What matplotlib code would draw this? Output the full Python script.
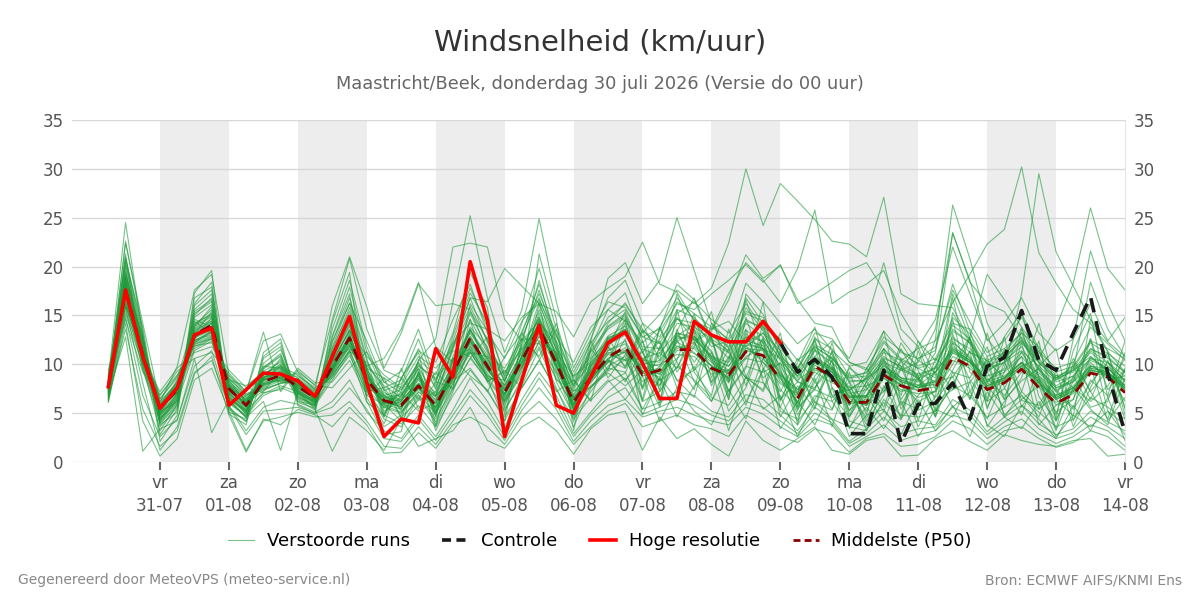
import pandas as pd
import matplotlib
matplotlib.use("Agg")
import matplotlib.pyplot as plt
import matplotlib.dates as mdates
from matplotlib.lines import Line2D

# time axis: 6-hourly steps from 30-07 06:00 to 14-08 00:00
times = pd.date_range("2026-07-30 06:00", periods=60, freq="6h")
day_ticks = pd.date_range("2026-07-31", "2026-08-14", freq="D")
day_names = ["vr", "za", "zo", "ma", "di", "wo", "do", "vr", "za", "zo", "ma", "di", "wo", "do", "vr"]
day_dates = ["31-07", "01-08", "02-08", "03-08", "04-08", "05-08", "06-08", "07-08",
             "08-08", "09-08", "10-08", "11-08", "12-08", "13-08", "14-08"]

# high resolution run (first 40 steps, until 09-08 00:00)
hres = [7.7, 17.6, 10.8, 5.5, 7.6, 13.0, 13.7, 5.8, 7.4, 9.1, 9.0, 8.3, 6.7, 10.8, 14.9,
        8.1, 2.6, 4.4, 4.0, 11.6, 8.7, 20.5, 14.5, 2.6, 8.4, 14.0, 5.8, 5.0, 8.7, 12.2,
        13.3, 10.1, 6.5, 6.5, 14.4, 13.0, 12.3, 12.3, 14.4, 12.2]

# control run, visible from 09-08 00:00 onward (step 39..59)
control = [12.2, 9.2, 10.5, 8.7, 2.9, 2.9, 9.4, 1.9, 5.9, 6.0, 8.1, 4.4, 9.8, 10.7,
           15.5, 10.4, 9.4, 13.2, 16.9, 9.1, 3.0]

# ensemble median
p50 = [7.7, 17.6, 11.0, 5.5, 7.4, 13.0, 14.0, 7.5, 5.8, 8.2, 8.9, 7.7, 6.6, 9.8, 12.7,
       8.4, 6.3, 5.8, 7.8, 5.8, 9.1, 12.7, 9.8, 7.1, 10.4, 13.7, 10.1, 6.1, 8.7, 10.7,
       11.8, 8.9, 9.4, 11.5, 11.5, 9.6, 8.9, 11.3, 10.9, 8.4, 6.5, 9.8, 8.7, 6.1, 6.1,
       8.9, 7.8, 7.3, 7.6, 10.7, 9.8, 7.4, 8.1, 9.5, 7.6, 6.0, 6.9, 9.1, 8.7, 7.1]

# perturbed members
runs = [
    [7.2, 19.5, 12.1, 4.3, 6.8, 15.2, 16.4, 6.9, 5.1, 9.3, 10.2, 7.1, 6.0, 11.4, 15.8,
     9.7, 5.2, 6.4, 8.9, 4.7, 10.8, 14.6, 11.2, 6.5, 9.8, 15.3, 11.0, 5.2, 9.1, 12.4,
     13.6, 9.2, 7.8, 12.9, 14.1, 10.3, 8.1, 13.5, 12.2, 7.4, 5.6, 10.4, 9.5, 5.3, 6.8,
     10.1, 8.2, 6.1, 7.3, 12.4, 10.6, 6.2, 7.5, 11.3, 8.2, 5.1, 6.4, 10.8, 9.3, 6.2],
    [8.1, 21.3, 9.8, 3.2, 5.9, 16.8, 17.9, 5.4, 4.2, 10.6, 11.8, 6.4, 5.3, 12.8, 17.2,
     7.3, 3.9, 8.6, 11.2, 3.8, 7.5, 16.2, 13.4, 4.8, 12.1, 18.6, 12.3, 4.1, 10.4, 13.9,
     15.2, 7.6, 11.8, 14.7, 13.2, 8.1, 10.6, 15.8, 13.4, 9.6, 4.8, 8.2, 11.3, 7.2, 4.5,
     7.6, 10.3, 8.8, 5.4, 15.3, 12.1, 5.6, 9.2, 13.8, 6.7, 4.2, 8.3, 12.6, 7.4, 9.5],
    [6.9, 16.2, 11.5, 6.2, 8.1, 11.8, 12.7, 8.3, 6.6, 7.4, 8.1, 8.2, 7.1, 8.9, 11.3,
     10.2, 7.4, 4.6, 6.3, 7.2, 11.4, 10.8, 8.3, 9.2, 11.6, 12.2, 8.4, 7.3, 7.6, 9.3,
     10.5, 11.2, 8.3, 9.6, 12.8, 11.4, 7.3, 9.8, 9.2, 10.1, 8.2, 7.4, 6.6, 7.8, 5.2,
     9.3, 6.4, 9.1, 8.2, 8.7, 11.3, 9.2, 6.4, 8.3, 9.6, 7.2, 5.4, 8.1, 10.2, 8.3],
    [7.5, 22.6, 13.4, 2.1, 4.8, 17.3, 19.6, 4.9, 3.8, 11.2, 12.6, 5.8, 4.9, 14.3, 19.4,
     6.2, 2.8, 3.1, 10.5, 8.9, 13.2, 19.4, 15.8, 3.4, 8.2, 21.3, 14.6, 3.2, 11.8, 15.6,
     17.3, 12.4, 6.2, 13.4, 16.8, 12.6, 6.4, 17.2, 15.1, 11.3, 6.9, 12.8, 10.2, 4.2, 3.6,
     6.1, 4.3, 10.6, 11.4, 18.2, 13.4, 8.1, 10.3, 15.2, 11.6, 6.4, 4.7, 14.6, 11.3, 5.4],
    [8.4, 14.6, 9.2, 6.8, 9.3, 10.6, 11.2, 9.1, 7.2, 13.3, 7.2, 9.4, 7.8, 7.6, 9.6,
     11.3, 8.2, 7.1, 5.2, 6.1, 8.3, 9.6, 7.2, 10.8, 13.2, 10.6, 7.2, 8.4, 6.3, 8.2,
     9.1, 13.4, 12.2, 8.3, 9.4, 13.1, 11.2, 8.6, 7.4, 12.3, 9.4, 6.1, 5.3, 9.6, 8.4,
     11.6, 9.8, 5.3, 6.2, 7.4, 8.2, 10.4, 11.2, 6.3, 5.8, 8.9, 7.6, 6.2, 7.8, 10.6],
    [7.0, 18.3, 10.4, 4.8, 7.9, 14.1, 15.2, 7.8, 6.2, 9.8, 9.6, 8.6, 6.4, 10.6, 13.9,
     8.8, 6.9, 5.4, 9.2, 5.3, 9.6, 13.6, 10.2, 6.1, 10.9, 14.8, 9.3, 6.2, 9.4, 11.2,
     11.2, 6.4, 13.8, 9.2, 11.8, 15.4, 8.2, 16.6, 11.4, 6.2, 10.2, 13.8, 7.6, 5.8, 9.6,
     7.2, 11.6, 8.4, 4.6, 9.2, 8.6, 11.8, 6.4, 12.2, 5.4, 6.8, 10.6, 7.2, 9.4, 4.4],
    [6.4, 15.8, 8.1, 1.2, 3.6, 9.2, 10.4, 5.8, 3.2, 5.6, 6.3, 5.9, 5.1, 6.2, 8.4,
     5.1, 3.2, 2.4, 4.8, 2.6, 5.3, 8.6, 6.2, 3.1, 6.4, 9.2, 6.8, 2.9, 5.1, 7.2,
     8.6, 5.4, 6.1, 7.2, 6.8, 5.2, 4.6, 6.9, 6.4, 4.8, 3.2, 5.6, 4.3, 2.1, 3.4,
     5.2, 3.6, 4.2, 3.8, 6.4, 5.3, 3.1, 4.6, 5.8, 3.9, 2.8, 3.4, 5.2, 4.1, 3.2],
    [8.8, 20.1, 12.6, 5.1, 6.2, 13.8, 15.9, 6.3, 5.4, 8.6, 9.8, 7.6, 6.9, 11.8, 16.3,
     12.4, 8.1, 9.3, 13.6, 8.2, 12.4, 17.3, 14.2, 8.6, 14.2, 19.8, 13.6, 9.2, 12.6, 16.8,
     18.6, 14.2, 12.8, 16.4, 15.2, 13.8, 12.6, 18.3, 16.4, 14.2, 12.1, 13.6, 11.4, 9.8, 10.2,
     13.4, 11.2, 10.6, 11.8, 17.6, 14.3, 11.2, 12.4, 14.8, 11.3, 9.6, 10.2, 13.8, 12.1, 10.4],
    [7.3, 17.1, 11.8, 5.9, 7.1, 12.4, 13.3, 7.2, 6.1, 8.4, 9.2, 7.3, 6.3, 9.4, 12.1,
     8.1, 6.7, 6.2, 8.4, 6.3, 10.2, 13.2, 10.6, 7.8, 11.3, 14.2, 12.4, 8.6, 10.8, 14.2,
     16.3, 13.2, 15.1, 17.6, 16.2, 17.8, 22.4, 30.0, 24.2, 28.5, 26.7, 24.8, 22.6, 22.3, 21.0,
     27.1, 17.2, 16.2, 16.0, 15.8, 12.4, 9.6, 11.3, 13.2, 9.4, 7.2, 8.6, 11.4, 10.2, 8.3],
    [7.9, 18.8, 10.2, 5.3, 7.6, 13.6, 14.6, 7.9, 5.6, 8.0, 8.6, 7.8, 6.8, 10.2, 13.4,
     9.4, 7.1, 6.3, 8.1, 6.9, 9.8, 12.1, 9.4, 7.6, 10.1, 13.1, 10.8, 7.2, 9.2, 12.8,
     13.2, 10.4, 12.6, 14.8, 12.4, 13.6, 17.2, 20.4, 18.6, 16.3, 19.8, 25.8, 16.2, 17.4, 18.2,
     19.6, 15.2, 12.3, 10.4, 12.8, 11.2, 10.4, 8.6, 10.2, 9.1, 7.6, 8.2, 10.4, 9.6, 7.8],
    [7.6, 19.8, 11.2, 4.6, 7.0, 14.4, 13.1, 6.6, 5.2, 8.8, 10.4, 7.4, 6.1, 10.9, 14.6,
     9.2, 5.8, 5.1, 7.2, 5.6, 8.6, 11.9, 9.1, 6.8, 11.6, 13.9, 9.6, 5.6, 8.8, 10.2,
     11.4, 8.2, 9.8, 12.3, 11.2, 9.4, 8.6, 10.8, 11.6, 8.9, 7.4, 9.2, 8.1, 7.3, 8.6,
     12.2, 10.4, 11.6, 12.4, 16.3, 19.2, 22.3, 23.8, 30.2, 21.4, 18.3, 15.6, 14.2, 11.3, 9.2],
    [8.2, 17.9, 10.8, 5.8, 8.3, 12.8, 13.6, 8.1, 6.3, 7.6, 8.3, 8.1, 6.4, 9.6, 12.4,
     7.9, 6.1, 6.8, 9.6, 4.9, 8.4, 12.3, 10.1, 7.9, 9.8, 12.8, 10.6, 6.5, 8.4, 10.6,
     11.2, 9.8, 9.1, 10.6, 12.1, 9.8, 9.3, 11.9, 10.2, 8.6, 6.1, 9.4, 8.9, 6.2, 5.8,
     8.6, 7.2, 7.8, 9.2, 11.6, 10.4, 8.3, 9.6, 17.2, 29.5, 21.5, 18.0, 14.6, 12.3, 10.8],
    [6.6, 16.8, 11.9, 6.5, 8.6, 12.2, 12.9, 8.6, 6.8, 7.8, 8.4, 8.4, 7.2, 9.1, 11.8,
     8.6, 6.8, 5.6, 7.6, 6.4, 9.4, 12.9, 9.6, 7.4, 10.6, 13.4, 10.2, 6.4, 8.6, 11.4,
     12.1, 9.3, 8.7, 11.4, 11.8, 10.2, 9.1, 11.6, 11.4, 8.2, 6.8, 9.6, 8.6, 5.9, 6.4,
     9.2, 7.9, 6.6, 7.2, 10.4, 9.6, 7.6, 8.4, 9.8, 10.6, 13.8, 18.3, 26.0, 19.8, 17.6],
    [7.4, 20.6, 13.8, 3.6, 5.6, 15.6, 17.2, 6.2, 4.6, 9.6, 11.1, 6.8, 5.6, 12.2, 16.8,
     10.6, 4.6, 7.8, 10.8, 9.6, 11.6, 15.4, 12.6, 8.2, 13.4, 17.2, 13.1, 8.2, 11.6, 14.8,
     16.1, 13.6, 11.4, 15.2, 16.4, 14.6, 13.2, 16.2, 13.8, 12.6, 10.4, 11.8, 10.6, 8.6, 9.2,
     11.6, 9.4, 10.2, 13.6, 23.4, 18.6, 12.4, 14.2, 16.8, 13.2, 11.4, 12.6, 21.6, 16.2, 12.4],
    [7.1, 15.4, 10.6, 7.2, 9.6, 11.2, 11.8, 9.4, 7.6, 7.1, 7.4, 9.6, 8.1, 8.2, 10.4,
     6.8, 5.9, 4.2, 6.8, 4.4, 7.6, 10.6, 8.4, 6.2, 8.9, 11.8, 8.6, 5.8, 7.8, 9.1,
     7.8, 9.4, 5.6, 12.6, 8.2, 6.2, 9.4, 5.8, 10.6, 8.8, 4.2, 6.4, 9.6, 7.4, 3.8,
     9.4, 4.4, 6.8, 9.2, 5.6, 7.2, 10.2, 4.8, 6.4, 7.8, 3.2, 7.6, 5.4, 3.8, 8.6],
    [8.6, 24.5, 12.9, 2.8, 5.4, 16.2, 18.4, 5.1, 4.4, 10.8, 12.2, 6.2, 5.8, 13.6, 18.6,
     11.8, 7.6, 8.4, 12.6, 7.8, 16.4, 25.2, 16.8, 11.2, 15.6, 24.9, 16.4, 9.6, 13.2, 16.4,
     15.8, 12.8, 13.6, 18.2, 16.6, 12.4, 10.6, 14.2, 12.8, 10.6, 8.2, 11.6, 9.8, 7.6, 7.8,
     10.4, 8.6, 8.2, 9.8, 13.6, 12.2, 9.2, 10.6, 12.6, 9.4, 7.8, 8.8, 11.6, 10.8, 9.1],
    [6.1, 14.2, 4.2, 0.6, 2.4, 8.4, 9.6, 5.2, 1.2, 4.2, 4.6, 5.1, 4.6, 4.8, 6.2,
     4.2, 1.6, 1.4, 3.6, 1.8, 4.2, 6.8, 4.8, 2.2, 5.3, 7.6, 5.4, 2.1, 4.2, 5.8,
     6.4, 4.6, 5.2, 5.6, 4.8, 4.2, 3.8, 5.6, 4.9, 3.6, 2.6, 4.4, 3.8, 1.6, 2.6,
     3.8, 2.2, 2.8, 3.2, 4.8, 4.2, 2.4, 3.6, 4.4, 2.8, 1.9, 2.6, 3.8, 3.2, 1.6],
    [7.8, 17.4, 9.4, 4.1, 6.4, 12.6, 14.8, 6.8, 4.9, 7.2, 9.4, 6.6, 5.9, 9.2, 13.2,
     7.6, 4.4, 3.6, 6.6, 4.1, 8.1, 11.4, 8.2, 5.2, 8.6, 12.4, 9.2, 4.6, 7.2, 9.6,
     9.2, 5.4, 8.6, 4.6, 7.8, 9.6, 3.2, 8.8, 5.4, 6.8, 2.6, 6.2, 4.4, 3.6, 5.6,
     3.4, 6.2, 2.6, 5.4, 4.6, 8.2, 3.8, 2.6, 5.8, 4.4, 2.4, 5.8, 3.2, 6.6, 2.2],
    [8.3, 18.6, 11.6, 5.6, 7.8, 13.3, 14.2, 7.6, 6.0, 8.1, 8.8, 7.9, 6.7, 9.9, 13.0,
     8.9, 6.2, 5.6, 7.4, 5.9, 9.2, 12.6, 9.9, 7.3, 10.4, 13.2, 10.4, 6.4, 9.6, 12.2,
     14.6, 11.2, 13.4, 16.2, 15.6, 17.2, 18.6, 20.2, 18.4, 20.2, 16.2, 17.2, 18.4, 19.6, 20.4,
     17.6, 12.6, 10.4, 9.2, 11.4, 10.2, 8.8, 9.4, 11.2, 8.8, 7.4, 8.2, 9.8, 9.2, 7.8],
    [7.7, 16.6, 10.1, 5.0, 8.4, 14.6, 13.8, 7.1, 5.5, 9.1, 8.2, 8.3, 6.5, 10.4, 11.6,
     9.9, 7.8, 6.6, 8.6, 7.1, 10.6, 11.6, 8.8, 7.9, 11.2, 15.6, 11.6, 6.9, 9.8, 11.6,
     15.4, 11.2, 7.4, 13.2, 10.2, 12.8, 6.8, 14.8, 9.6, 7.2, 10.6, 8.2, 5.4, 9.8, 7.6,
     5.2, 9.6, 11.8, 7.4, 16.8, 9.2, 7.8, 5.6, 13.6, 10.2, 4.8, 11.4, 15.2, 6.6, 9.4],
    [6.7, 19.1, 12.4, 4.9, 6.6, 13.1, 15.4, 7.3, 5.7, 8.9, 9.9, 7.2, 6.2, 10.8, 14.2,
     8.2, 5.6, 7.2, 10.2, 5.2, 8.8, 13.8, 11.8, 5.9, 9.4, 14.4, 9.8, 5.6, 10.2, 12.9,
     13.9, 10.6, 8.9, 12.3, 13.6, 11.2, 8.2, 10.6, 12.6, 9.4, 5.8, 8.8, 10.8, 8.2, 5.8,
     7.2, 9.6, 8.6, 6.6, 9.4, 12.6, 8.6, 6.8, 9.2, 8.6, 5.8, 7.2, 10.2, 8.4, 8.8],
    [8.9, 15.9, 11.3, 6.4, 8.8, 11.9, 12.2, 8.8, 7.0, 7.7, 8.7, 8.8, 7.6, 8.6, 10.9,
     7.2, 7.6, 5.2, 7.1, 6.8, 8.6, 11.2, 8.6, 8.4, 11.8, 13.8, 9.8, 6.6, 8.1, 10.4,
     9.6, 14.2, 10.4, 17.2, 12.4, 8.2, 11.6, 16.8, 14.2, 10.8, 5.4, 7.6, 9.8, 5.2, 8.2,
     10.6, 6.8, 12.4, 8.8, 17.2, 12.6, 6.4, 12.8, 15.4, 8.6, 4.4, 12.6, 16.2, 12.4, 14.8],
    [7.0, 12.8, 1.1, 3.4, 4.2, 10.6, 3.0, 6.4, 4.6, 6.2, 1.2, 7.2, 5.4, 1.1, 4.6,
     3.2, 1.2, 4.4, 1.6, 2.4, 3.2, 5.6, 2.2, 1.4, 3.6, 4.6, 3.2, 0.8, 3.4, 4.8,
     5.2, 1.2, 4.6, 2.4, 3.4, 1.8, 0.6, 4.2, 2.2, 1.2, 2.4, 3.6, 1.2, 0.8, 2.2,
     2.6, 0.6, 0.7, 2.4, 3.2, 2.1, 1.2, 2.8, 2.2, 1.8, 1.6, 2.2, 2.4, 0.6, 0.8],
    [7.4, 17.0, 11.1, 5.7, 7.2, 12.9, 13.9, 7.7, 6.4, 8.4, 9.1, 7.5, 6.8, 9.7, 12.6,
     7.2, 4.8, 8.6, 6.4, 9.2, 7.4, 10.6, 12.8, 5.4, 8.2, 16.2, 8.2, 4.8, 11.6, 9.4,
     14.2, 7.4, 11.2, 9.6, 13.6, 7.8, 10.8, 8.6, 12.8, 6.4, 8.2, 7.6, 10.4, 4.6, 7.4,
     10.4, 5.8, 8.8, 4.6, 12.2, 8.4, 6.2, 11.6, 7.2, 5.4, 8.6, 9.8, 6.4, 10.4, 5.6],
    [8.0, 22.4, 14.2, 6.1, 9.8, 17.6, 19.2, 8.9, 7.2, 12.4, 13.1, 9.2, 7.9, 14.6, 20.8,
     13.6, 9.4, 8.6, 11.4, 10.2, 14.6, 18.2, 13.2, 10.6, 14.4, 16.6, 12.8, 10.2, 13.8, 15.6,
     14.4, 12.2, 13.8, 16.8, 14.6, 11.8, 12.4, 15.4, 14.8, 11.6, 9.6, 13.2, 12.6, 10.2, 9.4,
     12.8, 11.4, 9.8, 10.6, 14.2, 13.6, 10.8, 11.6, 13.2, 11.8, 9.2, 9.8, 12.4, 11.6, 10.6],
    [6.3, 18.1, 12.8, 3.8, 5.1, 14.8, 16.1, 5.6, 4.1, 8.6, 10.6, 6.1, 5.5, 11.2, 14.9,
     6.6, 3.6, 4.8, 9.1, 3.2, 7.2, 11.8, 8.6, 4.2, 7.8, 11.6, 7.6, 3.6, 7.6, 9.8,
     10.8, 6.2, 7.2, 9.8, 8.4, 6.6, 5.8, 8.6, 8.1, 5.6, 3.8, 6.8, 6.2, 3.6, 3.2,
     6.4, 4.8, 4.6, 5.2, 7.8, 6.8, 4.6, 5.6, 6.8, 5.1, 3.6, 4.4, 6.6, 5.6, 4.4],
    [9.4, 16.4, 10.8, 6.9, 8.9, 12.1, 12.6, 8.4, 7.8, 9.2, 8.6, 9.1, 7.4, 9.3, 12.2,
     9.6, 8.6, 7.4, 9.8, 8.6, 10.6, 11.2, 10.8, 9.6, 12.6, 12.4, 11.2, 8.8, 10.2, 11.8,
     10.4, 10.6, 11.2, 13.2, 12.6, 10.8, 10.2, 12.8, 11.6, 10.6, 8.8, 11.4, 10.2, 8.4, 8.2,
     10.2, 9.4, 8.6, 9.2, 12.6, 11.6, 9.6, 10.2, 11.4, 9.8, 8.2, 8.8, 10.6, 10.2, 8.8],
    [6.8, 15.1, 9.9, 4.4, 6.1, 11.4, 12.4, 6.1, 4.8, 6.8, 7.6, 6.9, 5.8, 8.4, 11.2,
     6.1, 4.8, 3.9, 5.8, 3.6, 6.8, 9.4, 7.2, 4.6, 7.6, 10.4, 7.4, 4.4, 6.6, 8.4,
     6.4, 8.8, 4.2, 7.6, 5.2, 3.8, 7.4, 4.4, 9.6, 3.4, 6.2, 3.8, 7.6, 2.6, 4.8,
     5.4, 2.8, 6.4, 3.2, 5.8, 2.6, 7.2, 4.6, 3.4, 6.2, 2.6, 4.8, 3.6, 5.2, 2.8],
    [8.5, 19.0, 11.4, 5.4, 7.5, 13.9, 15.0, 7.4, 5.9, 8.3, 9.5, 7.7, 6.6, 10.3, 13.6,
     9.1, 6.6, 6.9, 8.8, 6.6, 11.8, 16.8, 12.2, 8.8, 12.4, 17.6, 12.2, 7.6, 11.2, 13.6,
     14.8, 11.6, 10.8, 14.2, 13.8, 12.6, 11.4, 14.6, 13.6, 10.8, 9.2, 11.8, 10.6, 8.6, 8.8,
     10.8, 9.6, 8.8, 9.6, 13.4, 12.2, 9.4, 10.2, 12.2, 10.2, 8.4, 9.4, 11.6, 10.6, 9.2],
    [7.6, 16.9, 10.7, 5.2, 7.3, 12.4, 13.4, 7.8, 5.8, 7.9, 8.5, 8.0, 6.9, 9.5, 12.8,
     8.2, 6.0, 5.9, 7.9, 5.5, 8.8, 12.4, 9.6, 6.8, 10.1, 13.6, 9.9, 5.9, 8.4, 10.4,
     8.4, 10.2, 12.4, 7.6, 9.8, 6.2, 10.4, 13.6, 8.2, 5.6, 9.6, 12.4, 6.8, 7.4, 4.2,
     6.8, 12.2, 9.4, 5.2, 7.8, 11.4, 3.6, 6.2, 8.6, 14.2, 7.4, 5.6, 9.8, 4.2, 6.6],
    [7.3, 18.4, 11.7, 5.3, 7.7, 13.4, 14.4, 7.0, 5.6, 8.7, 9.0, 7.4, 6.5, 10.1, 13.5,
     10.8, 8.9, 7.6, 9.9, 8.4, 12.2, 14.2, 13.6, 12.4, 14.8, 16.2, 15.4, 12.8, 16.4, 17.8,
     19.0, 22.5, 18.2, 17.4, 14.4, 13.6, 14.4, 12.2, 13.2, 11.4, 8.6, 10.8, 9.6, 7.4, 8.6,
     9.8, 8.6, 7.6, 8.4, 11.6, 10.4, 8.4, 9.2, 10.8, 8.6, 6.8, 7.8, 9.8, 9.6, 8.2],
    [8.7, 18.2, 10.3, 5.0, 7.0, 12.7, 13.5, 8.0, 6.5, 8.0, 8.4, 8.3, 6.2, 10.0, 12.9,
     8.3, 6.5, 6.0, 8.0, 6.0, 9.4, 12.8, 10.0, 7.0, 10.7, 13.9, 10.7, 7.8, 12.4, 18.8,
     20.4, 16.2, 18.6, 25.0, 19.6, 14.2, 12.4, 11.8, 13.2, 10.4, 8.4, 9.6, 9.2, 6.6, 6.8,
     9.4, 8.2, 7.8, 7.9, 11.2, 10.2, 7.8, 8.6, 9.8, 8.1, 6.4, 7.3, 9.4, 8.9, 7.6],
    [7.2, 17.3, 11.2, 5.6, 7.6, 13.1, 13.9, 7.4, 5.7, 8.1, 9.0, 7.6, 6.6, 9.8, 12.5,
     8.4, 6.2, 5.9, 7.7, 5.7, 9.0, 12.6, 9.7, 7.0, 10.3, 13.6, 10.0, 6.0, 8.6, 10.6,
     11.7, 8.8, 9.3, 11.6, 12.2, 13.4, 16.6, 21.2, 18.8, 20.1, 16.6, 14.2, 13.8, 10.2, 9.6,
     12.4, 10.6, 9.6, 8.6, 11.8, 10.6, 8.2, 8.8, 10.2, 8.4, 6.6, 7.6, 9.4, 9.1, 7.6],
    [7.9, 17.8, 10.6, 5.9, 7.1, 12.6, 14.3, 7.2, 6.1, 8.5, 8.6, 7.9, 6.3, 9.5, 12.9,
     8.7, 6.0, 6.1, 7.5, 6.2, 9.5, 12.3, 9.4, 7.4, 10.8, 13.3, 10.5, 6.4, 8.4, 11.1,
     11.4, 9.3, 9.0, 11.9, 11.1, 9.9, 8.6, 11.7, 10.5, 8.8, 6.2, 10.2, 8.4, 6.5, 5.8,
     8.9, 7.8, 7.3, 12.6, 26.3, 20.8, 14.2, 10.8, 12.4, 9.6, 7.6, 8.4, 10.6, 9.6, 7.9],
    [8.1, 16.5, 10.5, 5.8, 8.0, 12.3, 13.2, 8.2, 6.7, 8.5, 8.3, 8.5, 7.0, 9.0, 11.9,
     9.4, 4.6, 9.6, 5.4, 8.2, 7.6, 14.6, 8.2, 9.4, 7.6, 10.4, 13.6, 5.2, 12.4, 8.6,
     11.0, 9.6, 10.0, 11.0, 10.8, 9.0, 9.4, 10.6, 10.2, 8.0, 7.0, 10.4, 9.2, 6.7, 6.6,
     9.9, 8.6, 8.4, 11.2, 23.5, 18.4, 16.2, 15.4, 12.6, 10.4, 8.6, 9.2, 11.2, 9.8, 8.4],
    [7.5, 19.2, 12.2, 4.5, 6.4, 14.0, 15.6, 6.7, 5.0, 9.1, 9.7, 7.0, 6.0, 11.0, 14.9,
     9.0, 5.5, 6.6, 9.0, 5.0, 8.5, 13.5, 10.9, 6.3, 9.6, 14.6, 10.9, 5.4, 9.9, 12.0,
     13.0, 9.9, 8.4, 12.6, 12.9, 10.6, 8.4, 12.4, 11.9, 9.2, 6.0, 10.8, 12.4, 10.6, 14.4,
     20.4, 13.6, 11.8, 14.6, 22.0, 17.2, 12.6, 10.4, 11.8, 8.8, 6.8, 7.6, 9.9, 8.8, 7.4],
    [6.2, 14.8, 6.8, 2.6, 4.4, 9.8, 11.4, 5.6, 2.8, 5.2, 5.4, 5.6, 5.0, 5.6, 7.6,
     5.4, 2.4, 2.1, 4.4, 2.2, 4.8, 7.4, 5.4, 2.6, 5.8, 8.6, 6.0, 2.6, 4.8, 6.6,
     7.6, 4.9, 5.6, 6.4, 5.8, 4.8, 4.2, 6.2, 5.6, 4.2, 2.9, 5.0, 4.0, 1.9, 2.9,
     4.6, 2.9, 3.4, 3.6, 5.6, 4.8, 2.8, 4.1, 5.2, 3.4, 2.4, 3.0, 4.6, 3.6, 2.4],
    [8.6, 20.4, 11.9, 4.0, 6.0, 15.0, 16.8, 6.0, 4.7, 9.5, 10.8, 6.5, 5.7, 11.6, 15.4,
     9.3, 5.0, 6.8, 9.4, 4.6, 10.4, 15.2, 11.6, 5.6, 10.8, 16.4, 11.4, 4.8, 9.8, 12.6,
     13.4, 10.2, 9.8, 13.2, 12.8, 10.8, 9.8, 12.8, 12.4, 9.8, 7.4, 10.6, 9.6, 7.0, 7.4,
     9.4, 8.4, 7.6, 8.2, 12.2, 10.8, 7.8, 8.6, 10.1, 8.2, 6.6, 7.6, 9.6, 9.2, 7.4],
    [7.1, 16.0, 10.9, 6.0, 8.2, 12.0, 12.8, 8.5, 6.9, 7.5, 8.0, 8.6, 7.3, 8.8, 11.5,
     6.8, 8.6, 4.4, 9.2, 3.6, 10.6, 8.8, 7.4, 4.2, 12.6, 10.8, 14.2, 8.4, 6.2, 12.8,
     9.6, 12.4, 7.8, 13.6, 9.4, 11.2, 6.4, 13.2, 8.6, 10.2, 5.2, 11.6, 6.8, 4.6, 7.8,
     8.6, 7.4, 7.0, 7.2, 10.0, 12.8, 19.2, 16.6, 13.8, 11.2, 8.8, 9.4, 10.8, 9.2, 7.8],
    [6.5, 13.6, 5.4, 1.6, 3.2, 9.0, 10.8, 4.8, 1.0, 4.4, 3.8, 5.4, 4.8, 3.6, 5.6,
     3.8, 0.9, 1.0, 3.0, 1.4, 3.8, 4.6, 3.6, 1.8, 4.6, 6.2, 4.4, 1.8, 3.6, 5.2,
     6.0, 3.6, 4.2, 4.8, 3.8, 3.4, 2.6, 4.8, 3.8, 2.6, 2.0, 3.4, 2.8, 1.0, 2.4,
     2.9, 1.6, 1.8, 2.6, 4.2, 3.4, 1.8, 3.2, 3.6, 2.4, 1.5, 2.0, 3.2, 2.6, 1.2],
    [7.8, 18.9, 11.5, 4.7, 6.7, 13.7, 14.9, 7.1, 5.3, 8.6, 9.6, 7.0, 6.1, 10.6, 14.1,
     8.7, 5.9, 5.4, 8.6, 5.1, 9.8, 13.4, 10.6, 6.6, 10.9, 14.9, 10.8, 5.8, 9.4, 11.7,
     9.8, 13.6, 7.2, 10.4, 15.2, 8.6, 12.4, 7.8, 14.2, 6.4, 9.8, 5.6, 11.4, 4.8, 8.2,
     5.6, 10.6, 4.2, 9.8, 7.4, 12.8, 5.4, 10.2, 6.8, 4.6, 9.4, 3.6, 7.6, 11.2, 4.8],
    [8.0, 17.6, 10.0, 5.9, 7.9, 12.5, 13.0, 8.4, 6.0, 7.3, 8.1, 8.1, 6.8, 9.3, 12.0,
     8.1, 6.6, 6.4, 8.0, 6.7, 8.9, 11.5, 8.9, 7.4, 9.7, 12.9, 9.8, 6.7, 8.2, 10.2,
     14.6, 6.2, 11.8, 8.4, 6.6, 12.8, 7.2, 9.6, 16.4, 5.2, 4.4, 8.6, 3.6, 9.2, 4.8,
     11.6, 5.4, 8.6, 4.8, 13.2, 6.4, 10.8, 4.6, 7.2, 12.4, 4.2, 8.8, 5.6, 6.2, 11.2],
    [7.6, 21.0, 13.1, 4.2, 6.3, 16.0, 17.6, 6.5, 5.0, 10.1, 11.5, 7.3, 6.3, 12.9, 17.9,
     11.2, 7.3, 8.0, 11.6, 7.4, 12.9, 17.8, 13.8, 9.0, 13.1, 18.2, 12.9, 8.8, 12.2, 14.4,
     15.6, 12.8, 12.1, 15.6, 14.8, 12.9, 11.8, 15.2, 14.4, 11.9, 9.4, 12.6, 11.6, 8.8, 9.1,
     11.2, 10.4, 9.6, 10.2, 14.8, 13.1, 10.2, 11.0, 12.8, 10.6, 8.6, 9.6, 12.2, 11.1, 9.8],
    [6.8, 17.7, 11.6, 5.6, 7.0, 12.2, 13.4, 7.9, 6.2, 7.9, 8.6, 7.8, 6.7, 9.6, 12.4,
     8.3, 6.1, 5.7, 7.6, 5.6, 8.9, 12.5, 9.5, 7.0, 10.2, 13.5, 9.9, 6.0, 8.5, 10.5,
     8.2, 11.6, 5.8, 15.6, 9.2, 6.8, 13.6, 8.8, 7.2, 11.4, 3.8, 12.6, 6.2, 8.2, 3.2,
     7.8, 4.6, 11.4, 6.2, 8.8, 4.2, 9.6, 12.8, 5.6, 8.4, 3.4, 10.2, 7.2, 4.4, 9.6],
    [7.4, 16.1, 9.6, 4.9, 6.9, 11.6, 12.6, 7.0, 5.3, 7.0, 7.8, 7.2, 6.0, 8.7, 11.4,
     7.5, 5.6, 5.0, 6.9, 5.0, 8.0, 11.2, 8.7, 6.3, 9.2, 12.2, 9.0, 5.4, 7.7, 9.5,
     12.6, 4.8, 8.6, 6.4, 13.4, 10.8, 5.2, 7.6, 12.4, 4.6, 7.8, 5.4, 10.6, 3.4, 6.8,
     4.2, 8.4, 3.6, 6.8, 14.6, 7.2, 4.4, 8.6, 10.8, 3.8, 5.8, 6.4, 12.6, 5.2, 3.8],
    [7.9, 18.7, 11.8, 5.2, 7.8, 13.5, 14.4, 7.7, 5.7, 8.4, 9.8, 8.9, 7.4, 16.0, 21.0,
     15.9, 9.6, 13.2, 18.2, 16.0, 16.2, 15.6, 11.4, 8.4, 12.0, 14.6, 11.6, 7.4, 10.6, 12.4,
     13.2, 10.4, 10.2, 12.8, 12.6, 10.6, 9.8, 12.2, 11.6, 9.1, 7.2, 10.4, 9.4, 6.8, 6.8,
     9.6, 8.4, 7.9, 8.2, 11.4, 10.4, 8.0, 8.6, 10.2, 8.1, 6.5, 7.4, 9.6, 9.2, 7.6],
    [7.2, 17.5, 10.9, 5.4, 7.3, 12.8, 13.8, 7.6, 5.9, 8.3, 8.8, 7.6, 6.5, 9.7, 12.6,
     8.2, 6.5, 6.2, 10.4, 12.6, 22.0, 22.4, 22.0, 14.6, 12.4, 14.4, 11.2, 6.8, 9.2, 11.4,
     12.4, 9.2, 9.6, 11.8, 11.6, 9.8, 9.0, 11.4, 11.0, 8.5, 6.6, 9.9, 8.8, 6.2, 6.2,
     9.0, 7.9, 7.4, 7.7, 10.8, 9.9, 7.5, 8.2, 9.6, 7.7, 6.1, 7.0, 9.2, 8.8, 7.2],
    [8.4, 19.4, 12.0, 4.4, 6.5, 14.2, 15.1, 6.6, 5.2, 9.0, 10.0, 7.1, 6.2, 11.2, 14.4,
     9.6, 6.0, 7.0, 9.6, 6.8, 11.6, 16.8, 16.4, 19.8, 18.0, 16.2, 11.8, 8.0, 10.0, 12.6,
     13.6, 10.0, 10.4, 12.9, 12.2, 10.4, 9.4, 12.0, 11.6, 8.9, 7.0, 10.2, 9.2, 6.6, 6.7,
     9.4, 8.2, 7.6, 8.0, 11.2, 10.2, 7.8, 8.4, 9.9, 7.9, 6.4, 7.2, 9.4, 9.0, 7.5],
    [7.7, 18.0, 11.4, 5.8, 7.8, 13.2, 14.1, 7.9, 6.3, 8.6, 9.3, 7.9, 6.9, 10.4, 13.4,
     9.8, 10.6, 13.6, 18.4, 11.8, 10.2, 13.6, 10.4, 7.6, 10.8, 14.2, 10.4, 6.5, 9.0, 11.0,
     10.4, 7.6, 13.8, 10.2, 7.4, 14.2, 11.6, 6.2, 9.4, 13.2, 5.6, 7.4, 12.2, 5.8, 8.8,
     13.4, 6.2, 5.4, 10.6, 9.2, 6.4, 13.2, 7.6, 4.8, 9.8, 11.6, 4.2, 8.4, 6.8, 12.4],
    [8.2, 20.8, 12.7, 3.9, 5.8, 15.4, 16.6, 6.4, 4.5, 9.7, 10.9, 6.7, 5.8, 12.4, 16.2,
     10.4, 6.8, 7.4, 10.2, 7.6, 12.0, 15.9, 12.4, 8.2, 12.8, 16.8, 12.0, 7.8, 11.4, 13.8,
     15.0, 11.8, 11.6, 14.6, 14.2, 12.2, 11.2, 14.4, 13.8, 11.0, 8.8, 12.0, 11.0, 8.2, 8.4,
     10.6, 9.8, 9.0, 9.6, 14.0, 12.6, 9.8, 10.6, 12.4, 10.2, 8.4, 9.4, 18.4, 13.6, 10.8],
]

bad = [i for i, r in enumerate(runs) if len(r) != len(times)]
if bad:
    raise ValueError(f"runs with wrong length: {bad} -> {[len(runs[i]) for i in bad]}")

ens_color = "#1f9a3a"
fig = plt.figure(figsize=(12, 6), dpi=100)
ax = fig.add_axes([0.06, 0.23, 0.8775, 0.57])

# alternating day shading
for k in range(0, len(day_ticks) - 1, 2):
    ax.axvspan(day_ticks[k], day_ticks[k + 1], color="#ededed", zorder=0, lw=0)

for r in runs:
    ax.plot(times, r, color=ens_color, lw=0.8, alpha=0.6, zorder=2)

ax.plot(times[:len(hres)], p50[:len(hres)], color="#8b0000", lw=2, ls=(0, (4, 3)), zorder=3)
ax.plot(times[len(hres):], p50[len(hres):], color="#8b0000", lw=2, ls=(0, (4, 3)), zorder=3)
ax.plot(times[len(hres) - 1:], control, color="#1a1a1a", lw=2.6, ls=(0, (4, 2.5)), zorder=4)
ax.plot(times[:len(hres)], hres, color="#ff0000", lw=2.6, zorder=5)

ax.set_ylim(0, 35)
ax.set_yticks(range(0, 36, 5))
ax.set_xlim(mdates.date2num(day_ticks[0]) - 88 / 68.93, mdates.date2num(day_ticks[-1]))
ax.set_xticks(day_ticks)
ax.set_xticklabels([f"{n}\n{d}" for n, d in zip(day_names, day_dates)], linespacing=1.35)
ax.grid(axis="y", color="#d8d8d8", lw=1, zorder=1)
ax.set_axisbelow(True)
for s in ["top", "left", "bottom"]:
    ax.spines[s].set_visible(False)
ax.spines["right"].set_color("#e4e4e4")
ax.tick_params(axis="y", length=0, labelsize=12, labelcolor="#555555", pad=6,
               labelleft=True, labelright=True)
ax.tick_params(axis="x", length=6, width=1.5, color="#666666", labelsize=12,
               labelcolor="#555555", pad=3)

fig.text(0.5, 0.93, "Windsnelheid (km/uur)", ha="center", va="center", fontsize=21, color="#333333")
fig.text(0.5, 0.86, "Maastricht/Beek, donderdag 30 juli 2026 (Versie do 00 uur)",
         ha="center", va="center", fontsize=12.8, color="#666666")

handles = [
    Line2D([], [], color=ens_color, lw=0.8, alpha=0.6),
    Line2D([], [], color="#1a1a1a", lw=2.6, ls=(0, (2.5, 1.5))),
    Line2D([], [], color="#ff0000", lw=2.6),
    Line2D([], [], color="#8b0000", lw=2, ls=(0, (2.5, 1.5))),
]
labels = ["Verstoorde runs", "Controle", "Hoge resolutie", "Middelste (P50)"]
fig.legend(handles, labels, loc="center", bbox_to_anchor=(0.5, 0.098), ncol=4, frameon=False,
           fontsize=13, handlelength=1.45, columnspacing=1.8, handletextpad=0.7)

fig.text(0.015, 0.033, "Gegenereerd door MeteoVPS (meteo-service.nl)", ha="left", va="center",
         fontsize=10, color="#888888")
fig.text(0.985, 0.033, "Bron: ECMWF AIFS/KNMI Ens", ha="right", va="center",
         fontsize=10, color="#888888")

fig.savefig("out.png", dpi=100)
